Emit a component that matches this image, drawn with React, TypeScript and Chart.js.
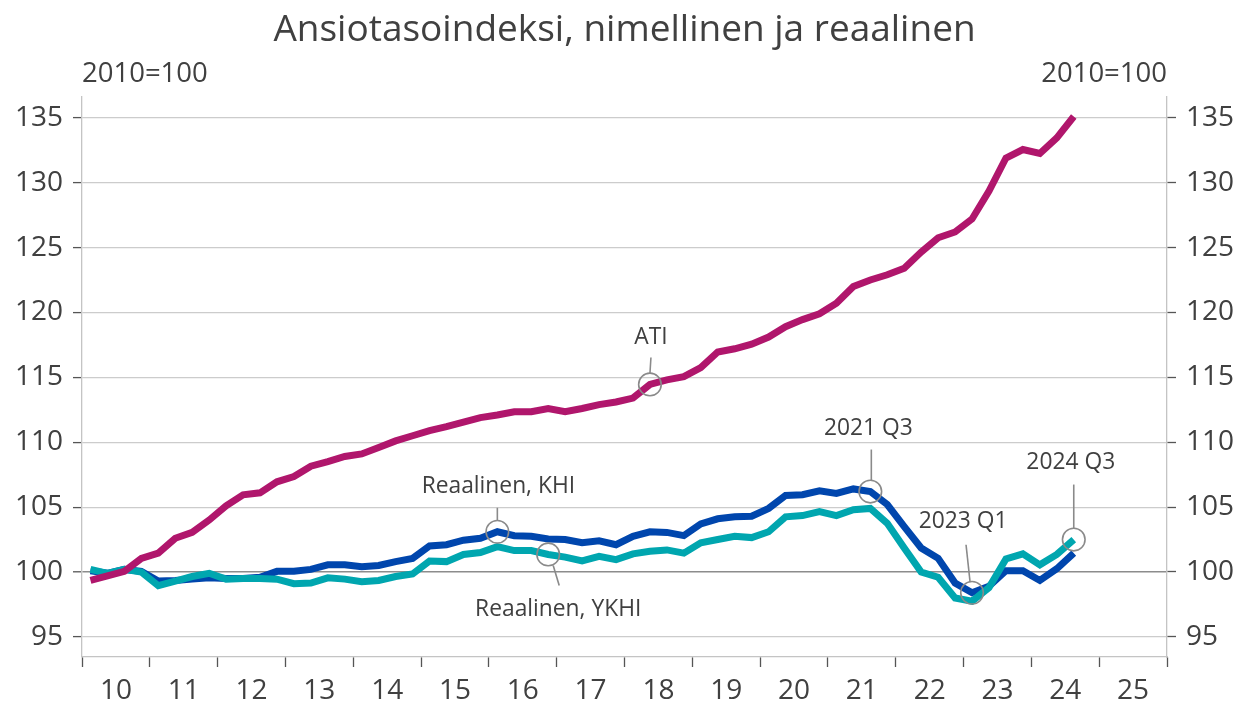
import { useEffect, useRef } from 'react';
import { Chart, registerables } from 'chart.js';

Chart.register(...registerables);

// ---- Data (quarterly, 2010 Q1 – 2024 Q3) ----
const yearLabels = ['10', '11', '12', '13', '14', '15', '16', '17', '18', '19', '20', '21', '22', '23', '24', '25'];
const yTickValues = [95, 100, 105, 110, 115, 120, 125, 130, 135];

const ati = [
  99.35, 99.7, 100.05, 101.05, 101.45, 102.6, 103.05, 104.0, 105.1, 105.95,
  106.1, 106.95, 107.35, 108.15, 108.5, 108.9, 109.1, 109.6, 110.1, 110.5,
  110.9, 111.2, 111.55, 111.9, 112.1, 112.35, 112.35, 112.6, 112.35, 112.6,
  112.9, 113.1, 113.4, 114.45, 114.8, 115.05, 115.75, 116.95, 117.2, 117.55,
  118.1, 118.9, 119.45, 119.9, 120.7, 122.0, 122.5, 122.9, 123.4, 124.65,
  125.75, 126.2, 127.2, 129.35, 131.9, 132.55, 132.25, 133.45, 135.1,
];

const khi = [
  100.1, 99.9, 100.2, 100.05, 99.3, 99.35, 99.45, 99.55, 99.5, 99.5,
  99.6, 100.05, 100.05, 100.2, 100.55, 100.55, 100.4, 100.5, 100.8, 101.05,
  102.0, 102.1, 102.45, 102.6, 103.1, 102.8, 102.75, 102.55, 102.5, 102.25,
  102.4, 102.1, 102.75, 103.1, 103.05, 102.8, 103.7, 104.1, 104.25, 104.3,
  104.9, 105.9, 105.95, 106.25, 106.05, 106.4, 106.2, 105.2, 103.5, 101.85,
  101.05, 99.15, 98.4, 98.9, 100.1, 100.1, 99.35, 100.25, 101.45,
];

const ykhi = [
  100.2, 99.9, 100.2, 100.0, 98.95, 99.3, 99.65, 99.9, 99.45, 99.5,
  99.5, 99.45, 99.1, 99.15, 99.55, 99.45, 99.25, 99.35, 99.65, 99.85,
  100.85, 100.8, 101.35, 101.5, 101.95, 101.65, 101.65, 101.35, 101.15, 100.85,
  101.2, 100.95, 101.4, 101.6, 101.7, 101.45, 102.25, 102.5, 102.75, 102.65,
  103.1, 104.25, 104.35, 104.65, 104.35, 104.8, 104.9, 103.75, 101.85, 100.0,
  99.6, 98.0, 97.75, 98.8, 101.0, 101.4, 100.55, 101.35, 102.5,
];

// ---- Styling ----
const FONT = "'Open Sans', 'Noto Sans', sans-serif";
const TEXT = '#404040';
const COLORS = { ati: '#B0166C', khi: '#0046AD', ykhi: '#00A6AF' };

// annotation callouts: dataset index (0 ATI, 1 YKHI, 2 KHI), point index, text, pixel offsets
const callouts = [
  { ds: 0, idx: 33, text: 'ATI', from: [0, -11], to: [1, -27], label: [1, -47] },
  { ds: 2, idx: 24, text: 'Reaalinen, KHI', from: [0, -11], to: [0, -24], label: [1, -45] },
  { ds: 1, idx: 27, text: 'Reaalinen, YKHI', from: [5, 11], to: [11, 31], label: [10, 55] },
  { ds: 2, idx: 46, text: '2021 Q3', from: [1, -11], to: [1, -42], label: [-2, -63] },
  { ds: 2, idx: 52, text: '2023 Q1', from: [-2, -11], to: [-6, -48], label: [-9, -71] },
  { ds: 1, idx: 58, text: '2024 Q3', from: [0, -11], to: [0, -55], label: [-3, -77] },
];

const toXY = (arr: number[]) => arr.map((v, i) => ({ x: i + 0.5, y: v }));

const overlayPlugin = {
  id: 'overlay',
  afterDatasetsDraw(chart: any) {
    const { ctx, chartArea } = chart;
    ctx.save();
    // title
    ctx.fillStyle = TEXT;
    ctx.font = `37px ${FONT}`;
    ctx.textAlign = 'center';
    ctx.textBaseline = 'middle';
    ctx.fillText('Ansiotasoindeksi, nimellinen ja reaalinen', (chartArea.left + chartArea.right) / 2, 30);
    // unit labels
    ctx.font = `27.5px ${FONT}`;
    ctx.textAlign = 'left';
    ctx.fillText('2010=100', chartArea.left, 74);
    ctx.textAlign = 'right';
    ctx.fillText('2010=100', chartArea.right, 74);

    // callouts
    ctx.strokeStyle = '#8a8a8a';
    ctx.lineWidth = 1.6;
    ctx.font = `22.8px ${FONT}`;
    ctx.textAlign = 'center';
    for (const c of callouts) {
      const meta = chart.getDatasetMeta(c.ds);
      const pt = meta.data[c.idx];
      if (!pt) continue;
      const x = pt.x;
      const y = pt.y;
      ctx.beginPath();
      ctx.arc(x, y, 11.3, 0, Math.PI * 2);
      ctx.stroke();
      ctx.beginPath();
      ctx.moveTo(x + c.from[0], y + c.from[1]);
      ctx.lineTo(x + c.to[0], y + c.to[1]);
      ctx.stroke();
      ctx.fillText(c.text, x + c.label[0], y + c.label[1]);
    }
    ctx.restore();
  },
};

export default function App() {
  const canvasRef = useRef<HTMLCanvasElement | null>(null);

  useEffect(() => {
    document.body.style.margin = '0';
    const canvas = canvasRef.current;
    if (!canvas) return;
    const chart = new Chart(canvas, {
      type: 'line',
      data: {
        datasets: [
          { label: 'ATI', data: toXY(ati), borderColor: COLORS.ati, borderWidth: 7, pointRadius: 0, tension: 0 },
          { label: 'Reaalinen, YKHI', data: toXY(ykhi), borderColor: COLORS.ykhi, borderWidth: 7, pointRadius: 0, tension: 0 },
          { label: 'Reaalinen, KHI', data: toXY(khi), borderColor: COLORS.khi, borderWidth: 7, pointRadius: 0, tension: 0 },
        ],
      },
      options: {
        animation: false,
        responsive: true,
        maintainAspectRatio: false,
        layout: { padding: { top: 97, left: 0, right: 0, bottom: 0 } },
        plugins: { legend: { display: false }, tooltip: { enabled: false }, title: { display: false } },
        scales: {
          x: {
            type: 'linear',
            min: 0,
            max: yearLabels.length * 4,
            afterBuildTicks: (scale: any) => {
              const t = [];
              for (let v = 0; v <= yearLabels.length * 4; v += 2) t.push({ value: v });
              scale.ticks = t;
            },
            afterFit: (scale: any) => { scale.height = 47; },
            ticks: {
              autoSkip: false,
              maxRotation: 0,
              padding: 7,
              color: TEXT,
              font: { family: FONT, size: 28 },
              callback: (v: any) => (v % 4 === 2 ? yearLabels[(v - 2) / 4] : ''),
            },
            grid: {
              drawOnChartArea: false,
              tickLength: 10,
              tickWidth: 1.3,
              tickColor: (ctx: any) => (ctx.tick && ctx.tick.value % 4 === 0 ? '#555555' : 'rgba(0,0,0,0)'),
            },
            border: { color: '#c4c4c4', width: 1.3 },
          },
          y: {
            position: 'left',
            min: 93.45,
            max: 136.6,
            afterBuildTicks: (scale: any) => { scale.ticks = yTickValues.map((v) => ({ value: v })); },
            afterFit: (scale: any) => { scale.width = 82; },
            ticks: { padding: 10, color: TEXT, font: { family: FONT, size: 28 } },
            grid: {
              color: (ctx: any) => (ctx.tick && ctx.tick.value === 100 ? '#8c8c8c' : '#cccccc'),
              lineWidth: (ctx: any) => (ctx.tick && ctx.tick.value === 100 ? 1.6 : 1.2),
              tickLength: 9,
              tickColor: '#555555',
              tickWidth: 1.3,
            },
            border: { color: '#c4c4c4', width: 1.3 },
          },
          y2: {
            position: 'right',
            min: 93.45,
            max: 136.6,
            afterBuildTicks: (scale: any) => { scale.ticks = yTickValues.map((v) => ({ value: v })); },
            afterFit: (scale: any) => { scale.width = 72; },
            ticks: { padding: 10, color: TEXT, font: { family: FONT, size: 28 } },
            grid: { drawOnChartArea: false, tickLength: 9, tickColor: '#555555', tickWidth: 1.3 },
            border: { color: '#c4c4c4', width: 1.3 },
          },
        },
      } as any,
      plugins: [overlayPlugin],
    });
    return () => chart.destroy();
  }, []);

  return (
    <div style={{ width: 1239, height: 704, position: 'relative', background: '#fff' }}>
      <canvas ref={canvasRef} />
    </div>
  );
}
